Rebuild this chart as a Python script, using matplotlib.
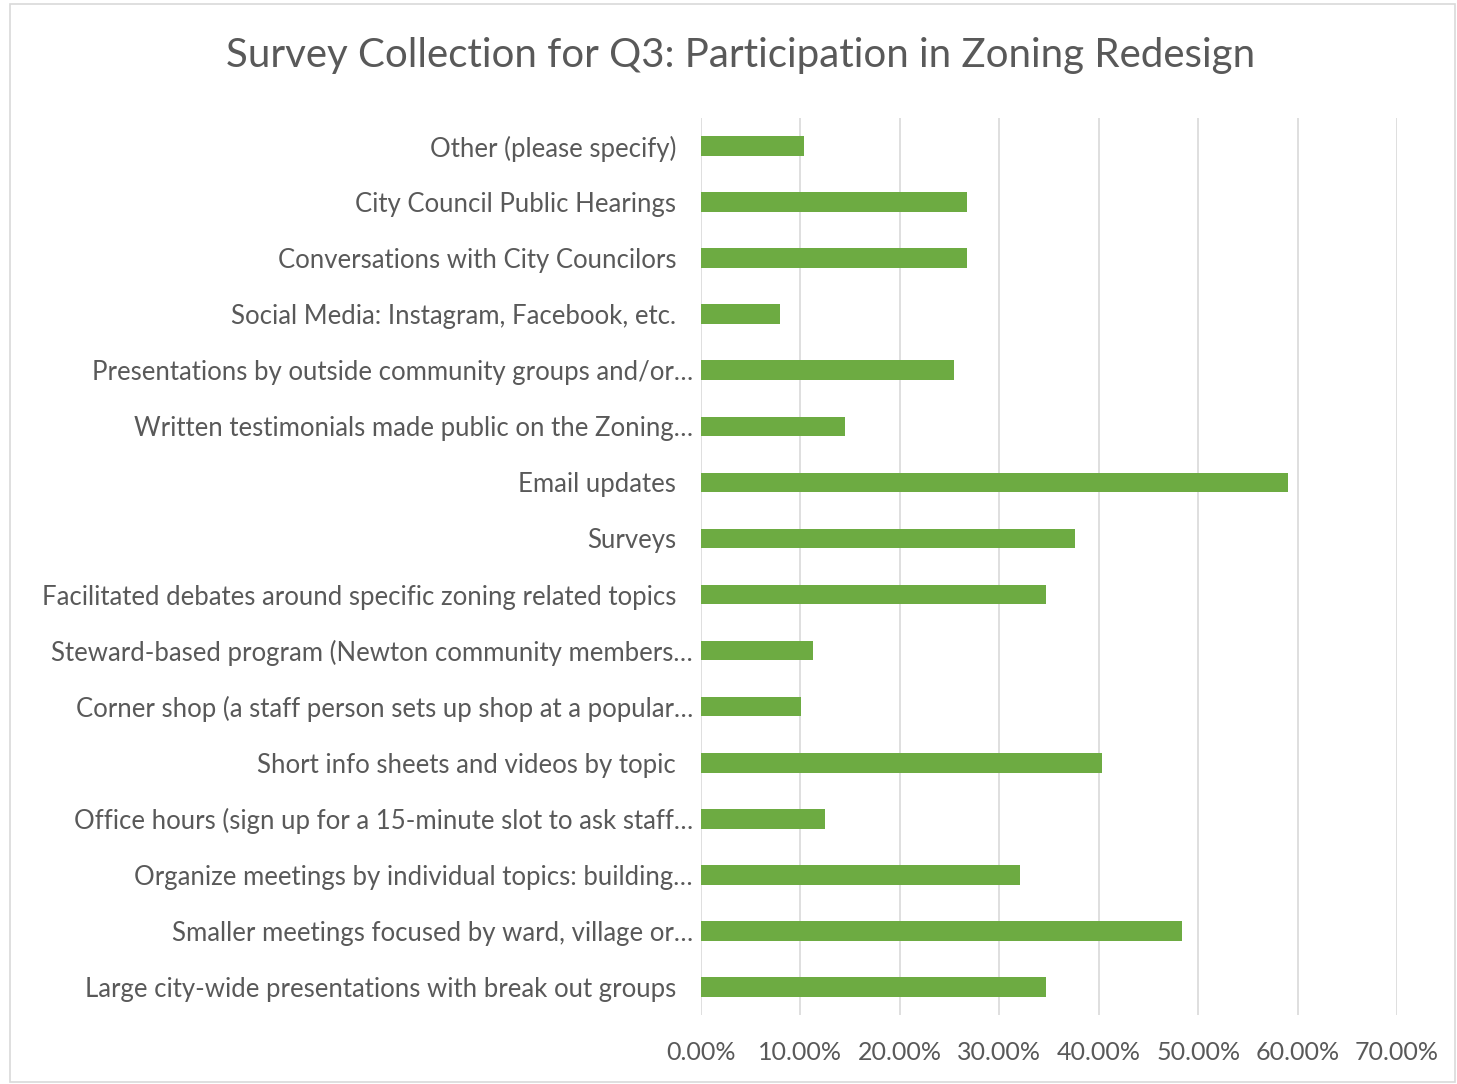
import matplotlib.pyplot as plt
from matplotlib.patches import Rectangle
from matplotlib.ticker import FuncFormatter
from matplotlib.transforms import ScaledTranslation

# categories listed top to bottom as in the chart
categories = [
    "Other (please specify)",
    "City Council Public Hearings",
    "Conversations with City Councilors",
    "Social Media: Instagram, Facebook, etc.",
    "Presentations by outside community groups and/or\u2026",
    "Written testimonials made public on the Zoning\u2026",
    "Email updates",
    "Surveys",
    "Facilitated debates around specific zoning related topics",
    "Steward-based program (Newton community members\u2026",
    "Corner shop (a staff person sets up shop at a popular\u2026",
    "Short info sheets and videos by topic",
    "Office hours (sign up for a 15-minute slot to ask staff\u2026",
    "Organize meetings by individual topics: building\u2026",
    "Smaller meetings focused by ward, village or\u2026",
    "Large city-wide presentations with break out groups",
]
percent = [10.35, 26.75, 26.75, 7.96, 25.48, 14.49, 59.04, 37.66,
           34.67, 11.27, 10.03, 40.33, 12.46, 32.05, 48.37, 34.67]
xticks = [0, 10, 20, 30, 40, 50, 60, 70]

plt.rcParams['font.family'] = ['Lato', 'DejaVu Sans']

fig = plt.figure(figsize=(14.57, 10.84), dpi=100)
ax = fig.add_axes([701 / 1457, 1 - 1015 / 1084, (1397 - 701) / 1457, (1015 - 118) / 1084])

ypos = list(range(len(categories)))
ax.barh(ypos, percent, height=0.35, color="#6DAB42", zorder=3)
ax.set_yticks(ypos)
ax.set_yticklabels(categories)
ax.set_ylim(len(categories) - 0.5, -0.5)

ax.set_xlim(0, 70)
ax.set_xticks(xticks)
ax.xaxis.set_major_formatter(FuncFormatter(lambda v, p: "%.2f%%" % v))
ax.grid(axis="x", color="#D9D9D9", linewidth=1.2, zorder=0)

for s in ax.spines.values():
    s.set_visible(False)
ax.tick_params(axis="both", length=0, colors="#595959")
ax.tick_params(axis="y", pad=18, labelsize=18.5)
ax.tick_params(axis="x", pad=19, labelsize=18)

# truncated labels run closer to the axis, like excel does it
shift = ScaledTranslation(17 / 100, 0, fig.dpi_scale_trans)
for lbl in ax.get_yticklabels():
    if lbl.get_text().endswith("\u2026"):
        lbl.set_transform(lbl.get_transform() + shift)

fig.text(741 / 1457, 1 - 55 / 1084, "Survey Collection for Q3: Participation in Zoning Redesign",
         ha="center", va="center", fontsize=29, color="#595959")

fig.patches.append(Rectangle((10 / 1457, 2 / 1084), 1445 / 1457, 1078 / 1084,
                             transform=fig.transFigure, fill=False,
                             edgecolor="#D9D9D9", linewidth=1.2))

fig.savefig("out.png", dpi=100)
